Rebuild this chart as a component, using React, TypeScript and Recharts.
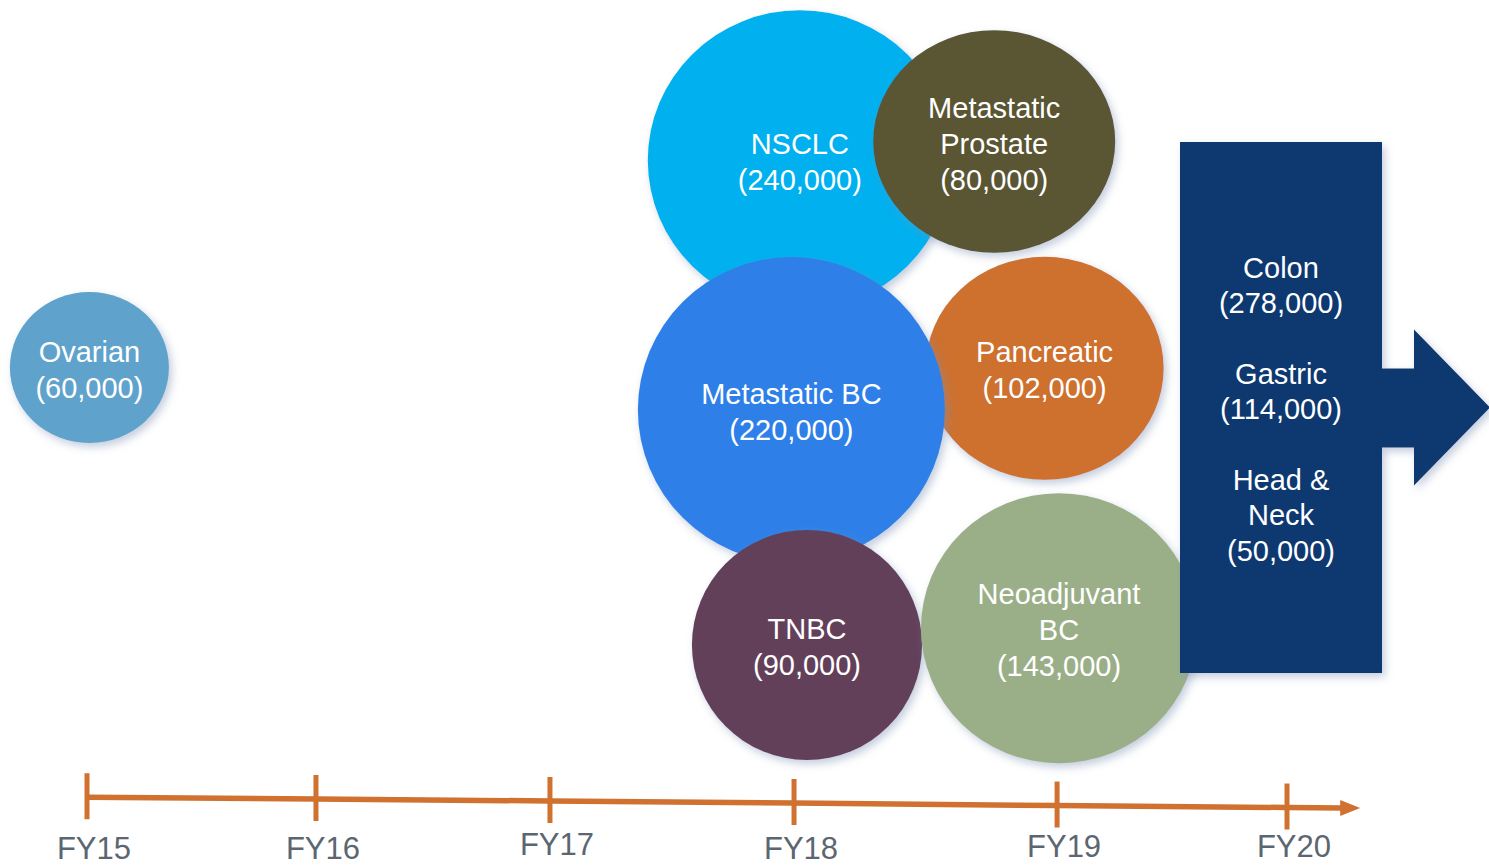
import React from "react"
import { ScatterChart, Scatter, XAxis, YAxis, ZAxis } from "recharts"

// indications plotted on the launch timeline (x = years after FY15, y = height above the timeline)
const bubbleLabels = ["Ovarian", "NSCLC", "Metastatic\nProstate", "Pancreatic", "Metastatic BC", "TNBC", "Neoadjuvant\nBC"]
const bubblePatients = [60000, 240000, 80000, 102000, 220000, 90000, 143000]
const bubbleTimeline = [0.01, 2.97, 3.78, 3.99, 2.935, 3.0, 4.05]
const bubbleLevel = [53.9, 79.9, 82.25, 53.8, 48.6, 19.1, 21.2]
const bubbleSize = [0.523, 1.0, 0.796, 0.783, 1.01, 0.757, 0.908]

// FY20+ block
const futureLabels = ["Colon", "Gastric", "Head &\nNeck"]
const futurePatients = [278000, 114000, 50000]
const futureTimeline = 4.975
const futureLevel = 48.9

// timeline
const fyLabels = ["FY15", "FY16", "FY17", "FY18", "FY19", "FY20"]
const fyPosition = [0, 0.954, 1.929, 2.946, 4.042, 5.0]
const fyLineLevel = [0, -0.22, -0.47, -0.72, -1.04, -1.29]
const arrowEnd = { x: 5.23, y: -1.35 }

const bubbleColors: Record<string, string> = {
  "Ovarian": "#5FA3CC",
  "NSCLC": "#00B0EF",
  "Metastatic\nProstate": "#5A5533",
  "Pancreatic": "#CE6F2E",
  "Metastatic BC": "#2E80E8",
  "TNBC": "#64415A",
  "Neoadjuvant\nBC": "#9AAF88",
}
const bubbleAspect: Record<string, number> = {
  "Ovarian": 0.95,
  "NSCLC": 0.987,
  "Metastatic\nProstate": 0.92,
  "Pancreatic": 0.937,
  "Metastatic BC": 0.995,
  "TNBC": 1.0,
  "Neoadjuvant\nBC": 0.978,
}
const labelNudge: Record<string, number> = { FY15: 51, FY16: 49, FY17: 43, FY18: 45, FY19: 40.5, FY20: 38.5 }

const FONT = "'Liberation Sans', Arial, Helvetica, sans-serif"
const ORANGE = "#D0712F"
const NAVY = "#0C386F"
const LINE_GAP = 36

const fmt = (n: number) => `(${n.toLocaleString("en-US")})`

const bubbleData = bubbleLabels.map((label, i) => ({
  label,
  patients: bubblePatients[i],
  x: bubbleTimeline[i],
  y: bubbleLevel[i],
  z: bubbleSize[i] * bubbleSize[i],
}))

const futureData = [{ x: futureTimeline, y: futureLevel, labels: futureLabels, patients: futurePatients }]

const timelineData = [
  ...fyLabels.map((label, i) => ({ label, x: fyPosition[i], y: fyLineLevel[i] })),
  { label: "", x: arrowEnd.x, y: arrowEnd.y, end: true },
]

function Shadow({ id }: { id: string }) {
  return (
    <defs>
      <filter id={id} x="-20%" y="-20%" width="150%" height="150%">
        <feDropShadow dx="3" dy="4" stdDeviation="4" floodColor="#7b8fb3" floodOpacity="0.45" />
      </filter>
    </defs>
  )
}

function Bubble(props: any) {
  const { cx, cy, width, payload } = props
  const rx = width / 2
  const ry = rx * (bubbleAspect[payload.label] ?? 1)
  const lines = [...payload.label.split("\n"), fmt(payload.patients)]
  const id = `shadow-${payload.label.replace(/\W/g, "")}`
  return (
    <g>
      <Shadow id={id} />
      <ellipse cx={cx} cy={cy} rx={rx} ry={ry} fill={bubbleColors[payload.label]} filter={`url(#${id})`} />
      <text textAnchor="middle" fill="#fff" fontSize={29} fontFamily={FONT}>
        {lines.map((l, i) => (
          <tspan key={i} x={cx} y={cy + 1.5 + (i - (lines.length - 1) / 2) * LINE_GAP + 10.5}>{l}</tspan>
        ))}
      </text>
    </g>
  )
}

function FutureBlock(props: any) {
  const { cx, cy, payload } = props
  const w = 202, h = 531
  const left = cx - w / 2, top = cy - h / 2, right = cx + w / 2
  const stemTop = cy - 39, stemBottom = cy + 40
  const headTop = cy - 78, headBottom = cy + 78
  const path = [
    `M${left},${top}`, `L${right},${top}`, `L${right},${stemTop}`, `L${right + 32},${stemTop}`,
    `L${right + 32},${headTop}`, `L${right + 108},${cy}`, `L${right + 32},${headBottom}`,
    `L${right + 32},${stemBottom}`, `L${right},${stemBottom}`, `L${right},${top + h}`, `L${left},${top + h}`, "Z",
  ].join(" ")
  const lines: string[] = []
  payload.labels.forEach((l: string, i: number) => {
    if (i > 0) lines.push("")
    lines.push(...l.split("\n"), fmt(payload.patients[i]))
  })
  return (
    <g>
      <Shadow id="shadow-future" />
      <path d={path} fill={NAVY} filter="url(#shadow-future)" />
      <text textAnchor="middle" fill="#fff" fontSize={29} fontFamily={FONT}>
        {lines.map((l, i) => (
          <tspan key={i} x={cx} y={cy + 1.5 + (i - (lines.length - 1) / 2) * 35.3 + 10.5}>{l}</tspan>
        ))}
      </text>
    </g>
  )
}

function TimelineMark(props: any) {
  const { cx, cy, payload } = props
  if (payload.end) {
    return <path d={`M${cx - 2},${cy - 8} L${cx + 18},${cy} L${cx - 2},${cy + 8} Z`} fill={ORANGE} />
  }
  return (
    <g>
      <line x1={cx} x2={cx} y1={cy - 24} y2={cy + 22} stroke={ORANGE} strokeWidth={5} />
      <text x={cx + 7} y={cy + labelNudge[payload.label] + 11} textAnchor="middle" fill="#5B6670" fontSize={31} fontFamily={FONT}>
        {payload.label}
      </text>
    </g>
  )
}

export default function App() {
  return (
    <div style={{ position: "absolute", left: 0, top: 0, background: "#fff" }}>
      <ScatterChart width={1489} height={865} margin={{ top: 0, right: 22, bottom: 0, left: 27 }}>
        <XAxis type="number" dataKey="x" domain={[-0.25, 5.75]} hide />
        <YAxis type="number" dataKey="y" domain={[-8.5, 100]} hide />
        <ZAxis type="number" dataKey="z" domain={[0, 1.2]} range={[0, Math.PI * 152 * 152 * 1.2]} />
        <ZAxis zAxisId="flat" range={[100, 100]} />
        <Scatter data={timelineData} zAxisId="flat" isAnimationActive={false}
          line={{ stroke: ORANGE, strokeWidth: 5.5 }} shape={(p: any) => <TimelineMark {...p} />} />
        <Scatter data={bubbleData} isAnimationActive={false} shape={(p: any) => <Bubble {...p} />} />
        <Scatter data={futureData} zAxisId="flat" isAnimationActive={false} shape={(p: any) => <FutureBlock {...p} />} />
      </ScatterChart>
    </div>
  )
}
